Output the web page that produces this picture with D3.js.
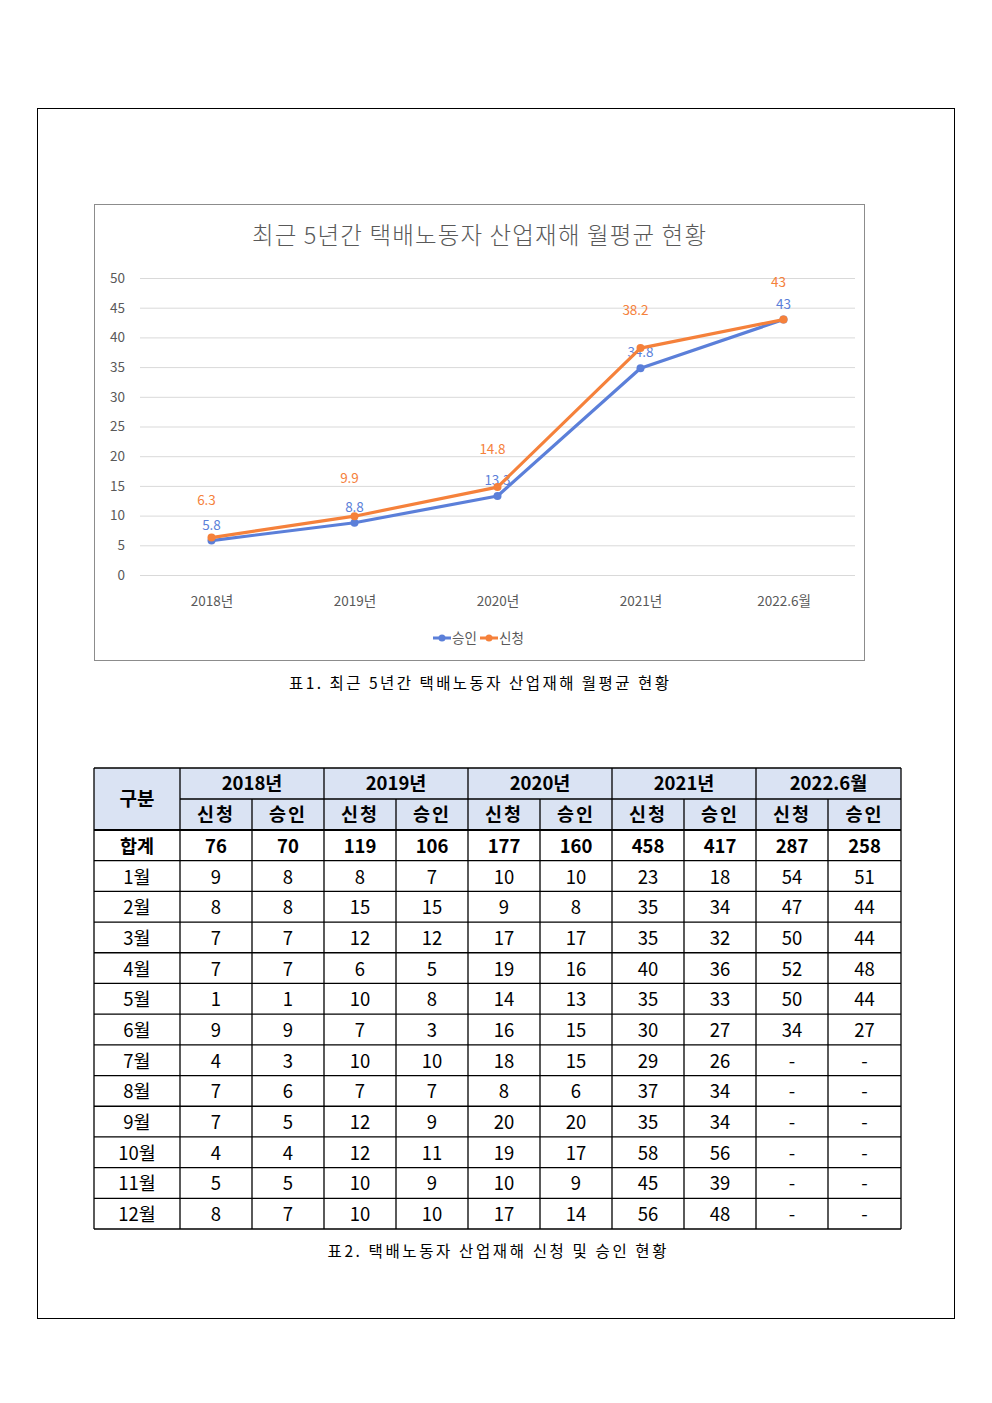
<!DOCTYPE html>
<html>
<head>
<meta charset="utf-8">
<script src="https://cdn.jsdelivr.net/npm/d3@7"></script>
<style>
  body { margin: 0; background: #fff; }
  svg { display: block; font-family: "Noto Sans CJK KR", "Noto Sans", sans-serif; }
</style>
</head>
<body>
<div id="page"></div>
<script>
// chart data
const years = ['2018년', '2019년', '2020년', '2021년', '2022.6월'];
const approved = [5.8, 8.8, 13.3, 34.8, 43];   // 승인
const applied = [6.3, 9.9, 14.8, 38.2, 43];    // 신청
const yTicks = [0, 5, 10, 15, 20, 25, 30, 35, 40, 45, 50];

// table data
const months = ['1월', '2월', '3월', '4월', '5월', '6월', '7월', '8월', '9월', '10월', '11월', '12월'];
const totals = [76, 70, 119, 106, 177, 160, 458, 417, 287, 258];
const apply2018 = [9, 8, 7, 7, 1, 9, 4, 7, 7, 4, 5, 8];
const approve2018 = [8, 8, 7, 7, 1, 9, 3, 6, 5, 4, 5, 7];
const apply2019 = [8, 15, 12, 6, 10, 7, 10, 7, 12, 12, 10, 10];
const approve2019 = [7, 15, 12, 5, 8, 3, 10, 7, 9, 11, 9, 10];
const apply2020 = [10, 9, 17, 19, 14, 16, 18, 8, 20, 19, 10, 17];
const approve2020 = [10, 8, 17, 16, 13, 15, 15, 6, 20, 17, 9, 14];
const apply2021 = [23, 35, 35, 40, 35, 30, 29, 37, 35, 58, 45, 56];
const approve2021 = [18, 34, 32, 36, 33, 27, 26, 34, 34, 56, 39, 48];
const apply2022 = [54, 47, 50, 52, 50, 34, '-', '-', '-', '-', '-', '-'];
const approve2022 = [51, 44, 44, 48, 44, 27, '-', '-', '-', '-', '-', '-'];

const blue = '#5b7fd9', orange = '#f5813b', grey = '#595959';

const svg = d3.select('#page').append('svg')
  .attr('width', 992)
  .attr('height', 1403);

// page frame
svg.append('rect')
  .attr('x', 37.5).attr('y', 108.5)
  .attr('width', 917).attr('height', 1210)
  .attr('fill', 'none').attr('stroke', '#000').attr('stroke-width', 1);

// chart box
svg.append('rect')
  .attr('x', 94.5).attr('y', 204.5)
  .attr('width', 770).attr('height', 456)
  .attr('fill', '#fff').attr('stroke', '#8c8c8c').attr('stroke-width', 1);

svg.append('text')
  .attr('x', 479).attr('y', 244)
  .attr('text-anchor', 'middle')
  .attr('font-size', 23.5).attr('fill', grey)
  .attr('font-weight', 300)
  .attr('textLength', 454).attr('lengthAdjust', 'spacing')
  .text('최근 5년간 택배노동자 산업재해 월평균 현황');

const x = d3.scalePoint().domain(years).range([140, 855]).padding(0.5);
const y = d3.scaleLinear().domain([0, 50]).range([575, 278]);

// gridlines + y labels
const yAxis = svg.append('g')
  .attr('transform', 'translate(140,0)')
  .call(d3.axisLeft(y).tickValues(yTicks).tickSize(-715).tickPadding(15));
yAxis.select('.domain').remove();
yAxis.selectAll('.tick line').attr('stroke', '#d9d9d9');
yAxis.selectAll('.tick text')
  .attr('fill', grey).attr('font-size', 13.5)
  .attr('font-family', '"Noto Sans CJK KR", sans-serif');

// x labels
const xAxis = svg.append('g')
  .attr('transform', 'translate(0,575)')
  .call(d3.axisBottom(x).tickSize(0).tickPadding(21));
xAxis.select('.domain').remove();
xAxis.selectAll('.tick text')
  .attr('fill', grey).attr('font-size', 13.5)
  .attr('font-family', '"Noto Sans CJK KR", sans-serif');

const series = [
  { name: '승인', values: approved, color: blue, dy: -11, dx: 0 },
  { name: '신청', values: applied, color: orange, dy: -33, dx: -5 }
];

const line = d3.line().x((d, i) => x(years[i])).y(d => y(d));

series.forEach(s => {
  svg.append('path')
    .attr('d', line(s.values))
    .attr('fill', 'none')
    .attr('stroke', s.color)
    .attr('stroke-width', 3.2)
    .attr('stroke-linejoin', 'round');
  svg.append('g').selectAll('circle')
    .data(s.values).enter()
    .append('circle')
    .attr('cx', (d, i) => x(years[i]))
    .attr('cy', d => y(d))
    .attr('r', 4)
    .attr('fill', s.color);
  svg.append('g').selectAll('text')
    .data(s.values).enter()
    .append('text')
    .attr('x', (d, i) => x(years[i]) + s.dx)
    .attr('y', d => y(d) + s.dy)
    .attr('text-anchor', 'middle')
    .attr('font-size', 13.5)
    .attr('fill', s.color)
    .text(d => d);
});

// legend
const legend = svg.append('g').attr('transform', 'translate(433,638)');
series.forEach((s, i) => {
  const g = legend.append('g').attr('transform', `translate(${i * 47},0)`);
  g.append('line').attr('x1', 0).attr('x2', 18).attr('y1', 0).attr('y2', 0)
    .attr('stroke', s.color).attr('stroke-width', 3);
  g.append('circle').attr('cx', 9).attr('cy', 0).attr('r', 3.5).attr('fill', s.color);
  g.append('text').attr('x', 19).attr('y', 5)
    .attr('font-size', 13.5).attr('fill', grey).text(s.name);
});

svg.append('text')
  .attr('x', 479).attr('y', 689)
  .attr('text-anchor', 'middle')
  .attr('font-size', 15.5).attr('fill', '#000')
  .attr('textLength', 380).attr('lengthAdjust', 'spacing')
  .text('표1. 최근 5년간 택배노동자 산업재해 월평균 현황');

// ---- table ----
const colX = d3.scaleLinear().domain([0, 1]).range([180, 252]); // width of one data column
const colLeft = i => i === 0 ? 94 : colX(i - 1);
const colRight = i => i === 0 ? 180 : colX(i);

const rowNames = ['합계'].concat(months);
const rowY = d3.scaleBand().domain(d3.range(rowNames.length)).range([830, 1229]);
const head = { top: 768, mid: 799, bottom: 830 };

const applyCols = [apply2018, apply2019, apply2020, apply2021, apply2022];
const approveCols = [approve2018, approve2019, approve2020, approve2021, approve2022];

const rows = rowNames.map((name, r) => {
  const cells = [name];
  for (let k = 0; k < years.length; k++) {
    if (r === 0) cells.push(totals[2 * k], totals[2 * k + 1]);
    else cells.push(applyCols[k][r - 1], approveCols[k][r - 1]);
  }
  return cells;
});

const tbl = svg.append('g');
const hdrFill = '#dae3f3';
const tableRight = 901;
const cRight = i => i === 10 ? tableRight : colRight(i);

// header backgrounds
tbl.append('rect').attr('x', 94).attr('y', head.top)
  .attr('width', tableRight - 94).attr('height', head.bottom - head.top).attr('fill', hdrFill);

// header text
tbl.append('text').attr('x', 137).attr('y', (head.top + head.bottom) / 2 + 7)
  .attr('text-anchor', 'middle').attr('font-size', 19).attr('font-weight', 'bold').text('구분');
years.forEach((yr, k) => {
  const l = colLeft(1 + 2 * k), r = cRight(2 + 2 * k);
  tbl.append('text').attr('x', (l + r) / 2).attr('y', head.top + 22)
    .attr('text-anchor', 'middle').attr('font-size', 18.5).attr('font-weight', 'bold').text(yr);
  ['신청', '승인'].forEach((t, j) => {
    const i = 1 + 2 * k + j;
    tbl.append('text').attr('x', (colLeft(i) + cRight(i)) / 2).attr('y', head.mid + 22)
      .attr('text-anchor', 'middle').attr('font-size', 18.5).attr('font-weight', 'bold')
      .attr('letter-spacing', 2).text(t);
  });
});

// body text
rows.forEach((cells, r) => {
  tbl.append('g').selectAll('text')
    .data(cells).enter()
    .append('text')
    .attr('x', (d, i) => (colLeft(i) + cRight(i)) / 2)
    .attr('y', rowY(r) + rowY.bandwidth() / 2 + 7.5)
    .attr('text-anchor', 'middle')
    .attr('font-size', 18.5)
    .attr('font-weight', r === 0 ? 'bold' : 'normal')
    .text(d => d);
});

// grid lines
const hLines = [head.top, head.bottom].concat(rowY.domain().map(r => rowY(r) + rowY.bandwidth()));
hLines.forEach(yy => {
  tbl.append('line').attr('x1', 94).attr('x2', tableRight).attr('y1', yy).attr('y2', yy)
    .attr('stroke', '#000').attr('stroke-width', 1.3);
});
tbl.append('line').attr('x1', 180).attr('x2', tableRight).attr('y1', head.mid).attr('y2', head.mid)
  .attr('stroke', '#000').attr('stroke-width', 1.3);
tbl.append('line').attr('x1', 94).attr('x2', tableRight).attr('y1', head.bottom).attr('y2', head.bottom)
  .attr('stroke', '#000').attr('stroke-width', 2);
d3.range(0, 12).forEach(i => {
  const xx = i === 11 ? tableRight : colLeft(i);
  const yearBoundary = i === 0 || i === 1 || i === 11 || (i % 2 === 1);
  tbl.append('line').attr('x1', xx).attr('x2', xx)
    .attr('y1', yearBoundary ? head.top : head.mid).attr('y2', 1229)
    .attr('stroke', '#000').attr('stroke-width', 1.3);
});

svg.append('text')
  .attr('x', 497).attr('y', 1257)
  .attr('text-anchor', 'middle')
  .attr('font-size', 15.5).attr('fill', '#000')
  .attr('textLength', 339).attr('lengthAdjust', 'spacing')
  .text('표2. 택배노동자 산업재해 신청 및 승인 현황');
</script>
</body>
</html>
